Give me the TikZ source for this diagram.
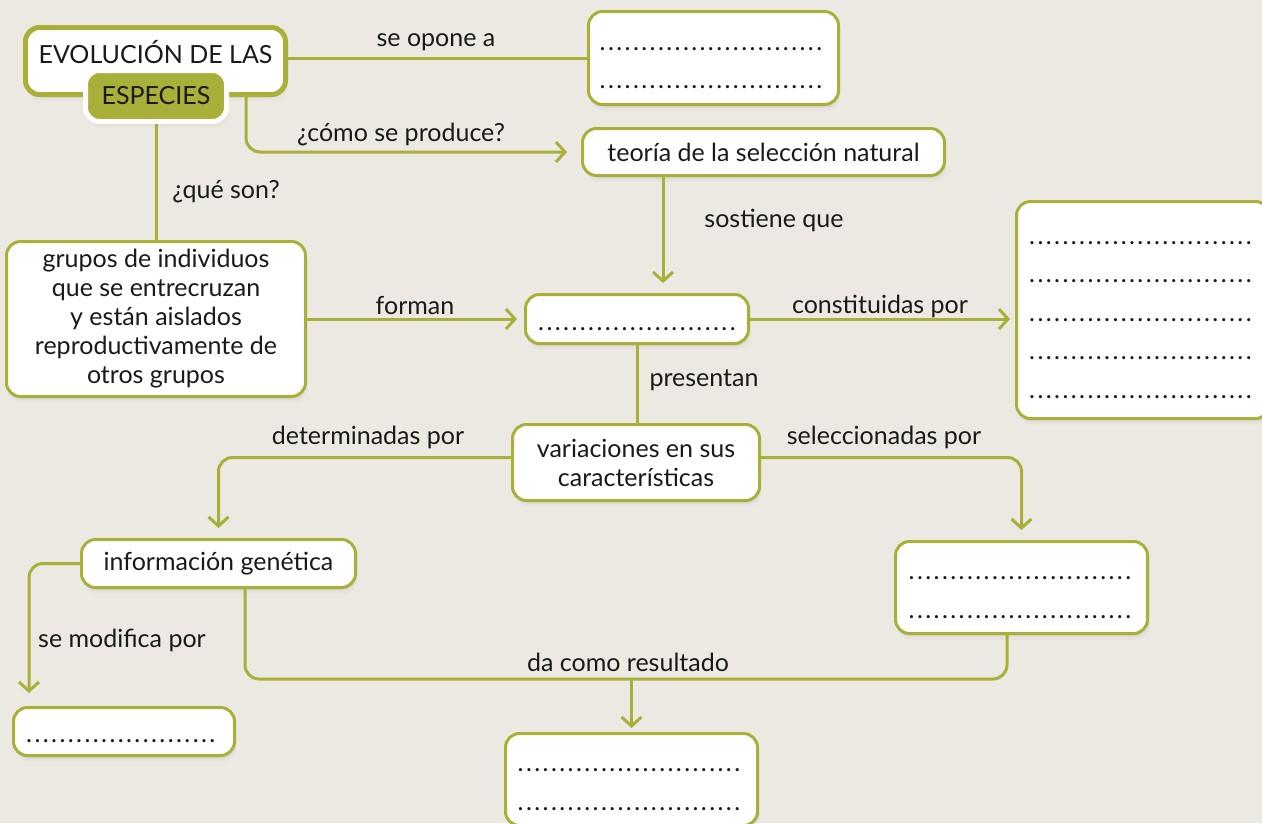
\documentclass[tikz,border=0pt]{standalone}
\usepackage{fontspec}
\setmainfont{Lato}
\usetikzlibrary{arrows.meta,shadows,calc}
\definecolor{olive}{RGB}{169,176,58}
\definecolor{bgc}{RGB}{236,232,226}
\definecolor{ink}{RGB}{26,26,26}
\newcommand\dotrow[1]{\rule{0pt}{23pt}\hbox to #1pt{\leaders\hbox to 8.33pt{\hss.\hss}\hfill}}
\begin{document}
\begin{tikzpicture}[x=1pt,y=-1pt,
  font=\fontsize{25}{29}\selectfont,
  box/.style={draw=olive, line width=3pt, fill=white, rounded corners=14pt, inner sep=0pt, align=center, text=ink,
    drop shadow={shadow xshift=1pt, shadow yshift=-3pt, opacity=.10},
    drop shadow={shadow xshift=2pt, shadow yshift=-6pt, opacity=.05}},
  dotbox/.style={box, font=\fontsize{25}{38.5}\selectfont},
  conn/.style={draw=olive, line width=3pt, rounded corners=14pt},
  arr/.style={conn, -{Straight Barb[length=9pt,width=20pt]}},
  lbl/.style={text=ink, inner sep=0pt}]
\useasboundingbox (0,0) rectangle (1262,823);
\fill[bgc] (0,0) rectangle (1262,823);
\clip (0,0) rectangle (1262,823);

% boxes
\node[box, line width=5pt, minimum width=260pt, minimum height=67pt] (title) at (155.5,61) {\raisebox{9pt}[\height][\depth]{EVOLUCIÓN DE LAS}};
\node[box, fill=olive, draw=white, line width=5pt, minimum width=141pt, minimum height=51pt] (esp) at (156,96) {ESPECIES};
\node[dotbox, minimum width=250pt, minimum height=93pt] (opone) at (713.5,58) {\dotrow{230}\\\dotrow{230}};
\node[box, minimum width=362pt, minimum height=47pt] (teoria) at (763.5,152) {teoría de la selección natural};
\node[dotbox, minimum width=223pt, minimum height=49pt] (mid) at (637,319) {\dotrow{200}};
\node[dotbox, minimum width=253pt, minimum height=217pt] (right) at (1143,310) {\dotrow{230}\\\dotrow{230}\\\dotrow{230}\\\dotrow{230}\\\dotrow{230}};
\node[box, minimum width=299pt, minimum height=155pt] (grupos) at (156,319) {grupos de individuos\\que se entrecruzan\\y están aislados\\reproductivamente de\\otros grupos};
\node[box, minimum width=247pt, minimum height=76pt] (var) at (636,462.5) {variaciones en sus\\características};
\node[box, minimum width=274pt, minimum height=48pt] (info) at (218.5,563.5) {información genética};
\node[dotbox, minimum width=252pt, minimum height=92pt] (sel) at (1021.5,587.5) {\dotrow{228}\\\dotrow{228}};
\node[dotbox, minimum width=221pt, minimum height=48pt] (bl) at (124,731.5) {\dotrow{198}};
\node[dotbox, minimum width=252pt, minimum height=92pt] (bottom) at (631.5,779.5) {\dotrow{230}\\\dotrow{230}};

% connectors
\draw[conn] (title.east |- opone.west) -- (opone.west);
\draw[arr, shorten >=14pt] ([xshift=-42pt]title.south east) |- (teoria.west);
\draw[conn] (esp.south) -- (grupos.north);
\draw[arr, shorten >=10pt] ([xshift=-100.5pt]teoria.south) -- ([xshift=-100.5pt]teoria.south |- mid.north);
\draw[arr, shorten >=7pt] (grupos.east) -- (mid.west);
\draw[arr, shorten >=5pt] (mid.east) -- (mid.east -| right.west);
\draw[conn] (mid.south) -- (mid.south |- var.north);
\draw[arr, shorten >=10pt] ([yshift=5pt]var.west) -| (info.north);
\draw[arr, shorten >=10pt] ([yshift=5pt]var.east) -| (sel.north);
\draw[arr, shorten >=13pt] (info.west) -| ([xshift=17pt]bl.north west);
\path (bottom.north) +(0,-53) coordinate (jn);
\draw[conn] ([xshift=165pt]info.south west) |- (jn) -| ([xshift=-14.5pt]sel.south);
\draw[arr, shorten >=4pt] (jn) -- (bottom.north);

% labels
\node[lbl] (l1) at (436,42) {se opone a};
\node[lbl] (l2) at (401,135) {¿cómo se produce?};
\node[lbl] (l3) at (226,192) {¿qué son?};
\node[lbl] (l4) at (774,220) {sostiene que};
\node[lbl] (l5) at (415,306) {forman};
\node[lbl] (l6) at (880,306) {constituidas por};
\node[lbl] (l7) at (704,380) {presentan};
\node[lbl] (l8) at (368,437) {determinadas por};
\node[lbl] (l9) at (884,437) {seleccionadas por};
\node[lbl] (l10) at (122,640) {se modifica por};
\node[lbl] (l11) at (628,662) {da como resultado};
\end{tikzpicture}
\end{document}
